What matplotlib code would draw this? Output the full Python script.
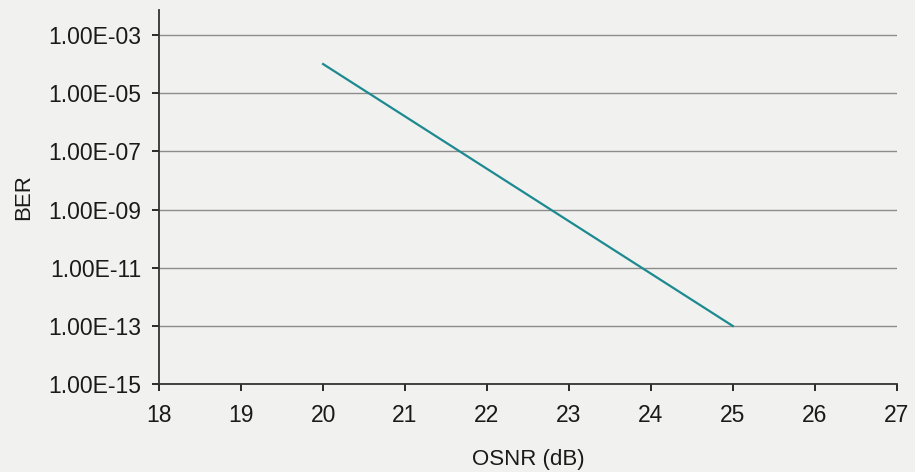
import matplotlib.pyplot as plt
from matplotlib.ticker import FixedLocator, FuncFormatter, NullLocator

plt.rcParams['font.family'] = ['Liberation Sans', 'DejaVu Sans']

osnr = [20, 25]
ber = [1e-4, 1e-13]
y_ticks = [1e-15, 1e-13, 1e-11, 1e-9, 1e-7, 1e-5, 1e-3]
x_ticks = [18, 19, 20, 21, 22, 23, 24, 25, 26, 27]

bg = '#f1f1ef'
fig = plt.figure(figsize=(9.15, 4.72), dpi=100, facecolor=bg)
ax = fig.add_axes([0.174, 0.186, 0.806, 0.793], facecolor=bg)

ax.plot(osnr, ber, color='#1c8a90', lw=1.6, zorder=3)

ax.set_yscale('log')
ax.set_ylim(1e-15, 10 ** -2.14)
ax.set_xlim(18, 27)
ax.yaxis.set_major_locator(FixedLocator(y_ticks))
ax.yaxis.set_minor_locator(NullLocator())
ax.yaxis.set_major_formatter(FuncFormatter(lambda v, p: '%.2E' % v))
ax.set_xticks(x_ticks)

ax.grid(axis='y', color='#8c8c8c', lw=1.0)
ax.set_axisbelow(True)
for s in ['top', 'right']:
    ax.spines[s].set_visible(False)
for s in ['left', 'bottom']:
    ax.spines[s].set_color('#333333')
    ax.spines[s].set_linewidth(1.3)

ax.tick_params(axis='both', labelsize=16.5, colors='#1a1a1a', length=5, width=1.3)
ax.tick_params(axis='x', pad=9)
ax.tick_params(axis='y', pad=8)
ax.set_xlabel('OSNR (dB)', fontsize=16, color='#1a1a1a', labelpad=16)
ax.set_ylabel('BER', fontsize=16, color='#1a1a1a', labelpad=10)

fig.savefig('out.png', dpi=100, facecolor=bg)
